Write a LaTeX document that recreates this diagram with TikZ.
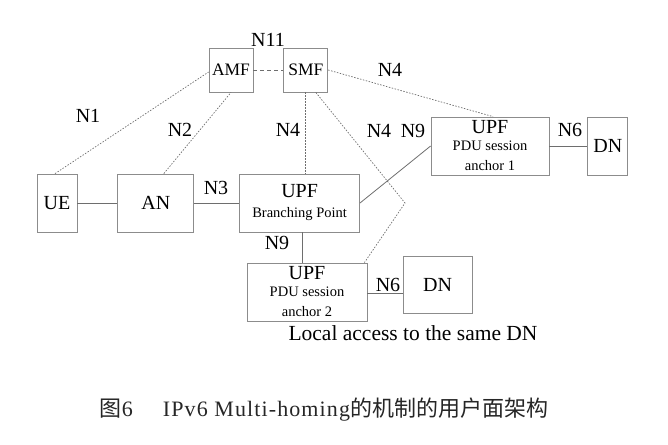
\documentclass[tikz,border=0pt]{standalone}
\usepackage{fontspec}
\setmainfont{Liberation Serif}
\newfontfamily\cjk{Noto Sans CJK SC}
\usepackage{tikz}
\usetikzlibrary{positioning}

\definecolor{boxgray}{RGB}{140,140,140}
\definecolor{linegray}{RGB}{110,110,110}

\begin{document}
\begin{tikzpicture}[x=1pt,y=-1pt, line width=0.8pt,
    box/.style={draw=boxgray, inner sep=0pt, align=center, font=\fontsize{20}{22}\selectfont},
    if/.style={font=\fontsize{20}{22}\selectfont},
    ctl/.style={draw=linegray, line width=0.7pt, dash pattern=on 1.5pt off 1.5pt},
    usr/.style={draw=linegray}]

    \useasboundingbox (0,0) rectangle (668,444);

    \node[box, minimum width=44pt, minimum height=44pt] (amf) at (231,70) {\fontsize{17.5}{20}\selectfont AMF};
    \node[box, minimum width=44pt, minimum height=44pt] (smf) [right=30pt of amf] {\fontsize{17.5}{20}\selectfont SMF};
    \node[box, minimum width=40pt, minimum height=58pt] (ue) at (57,203) {UE};
    \node[box, minimum width=76pt, minimum height=58pt] (an) [right=40pt of ue] {AN};
    \node[box, minimum width=120pt, minimum height=58pt] (bp) [right=45pt of an] {UPF\\[-2pt]{\fontsize{14.5}{16}\selectfont Branching Point}};
    \node[box, minimum width=118pt, minimum height=58pt] (a1) at (490,146) {UPF\\[-5pt]{\fontsize{14.5}{16}\selectfont PDU session}\\[-2pt]{\fontsize{14.5}{16}\selectfont anchor 1}};
    \node[box, minimum width=40pt, minimum height=58pt] (dn1) [right=38pt of a1] {DN};
    \node[box, minimum width=120pt, minimum height=58pt] (a2) at (307,292) {UPF\\[-5pt]{\fontsize{14.5}{16}\selectfont PDU session}\\[-2pt]{\fontsize{14.5}{16}\selectfont anchor 2}};
    \node[box, minimum width=69pt, minimum height=57pt] (dn2) at (437.5,285) {DN};
    \coordinate (bend) at (405,203);

    % user plane
    \draw[usr] (ue) -- (an);
    \draw[usr] (an) -- (bp);
    \draw[usr] (bp.east) -- (a1.west);
    \draw[usr] (a1) -- (dn1);
    \draw[usr] ([xshift=3pt]bp.south) -- ([xshift=3pt]bp.south |- a2.north);
    \draw[usr] ([yshift=-1pt]a2.east) -- ([yshift=-1pt]a2.east -| dn2.west);

    % control plane
    \draw[usr, dash pattern=on 4pt off 3pt] (amf) -- (smf);
    \draw[ctl] ([xshift=-2pt]ue.north) -- ([yshift=-2pt]amf.west);
    \draw[ctl] ([xshift=8pt]an.north) -- (amf.south);
    \draw[ctl] (smf.south) -- (smf.south |- bp.north);
    \draw[ctl] ([xshift=10pt]smf.south) -- (bend) -- ([xshift=-3pt]a2.north east);
    \draw[ctl] (smf.east) -- ([xshift=3pt]a1.north);

    % labels
    \node[if] (n11) at (268,40) {N11};
    \node[if] (n4a) at (390,70) {N4};
    \node[if] (n1) at (88,116) {N1};
    \node[if] (n2) at (180,130) {N2};
    \node[if] (n4b) at (288,130) {N4};
    \node[if] (n4c) at (379,131) {N4};
    \node[if] (n9a) at (413,131) {N9};
    \node[if] (n6a) at (570,130) {N6};
    \node[if] (n3) at (216,188) {N3};
    \node[if] (n9b) at (277,243) {N9};
    \node[if] (n6b) at (388,285) {N6};
    \node[if, font=\fontsize{21.5}{24}\selectfont] (local) at (413,333) {Local access to the same DN};

    \node[font=\fontsize{22}{24}\selectfont, text=black!85] (cap) at (324,410)
      {{\cjk 图}6\hspace{30pt}{\addfontfeatures{LetterSpace=5}IPv6 Multi-homing}{\cjk 的机制的用户面架构}};
\end{tikzpicture}
\end{document}
